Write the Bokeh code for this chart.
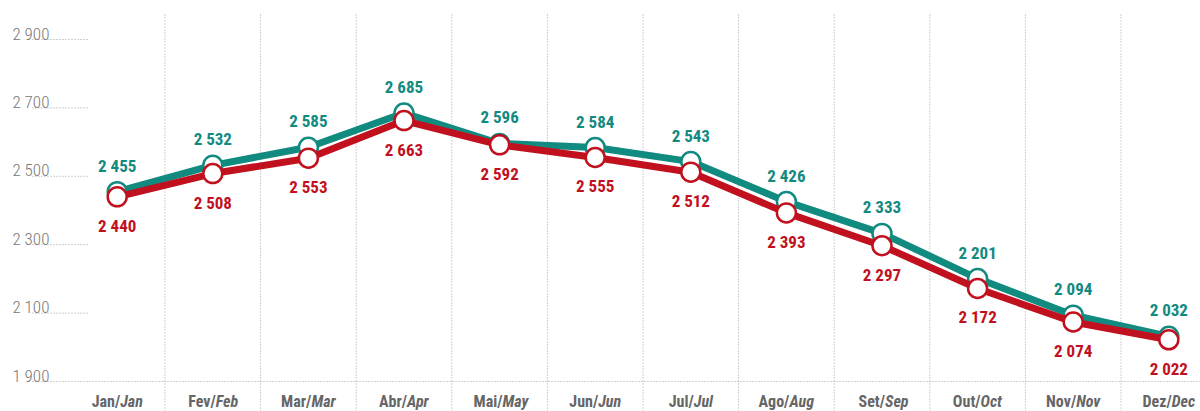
from bokeh.plotting import figure
from bokeh.models import Range1d
from bokeh.core.properties import value
from bokeh.embed import file_html
from bokeh.resources import INLINE

# ---- data ----
months_pt = ["Jan", "Fev", "Mar", "Abr", "Mai", "Jun", "Jul", "Ago", "Set", "Out", "Nov", "Dez"]
months_en = ["Jan", "Feb", "Mar", "Apr", "May", "Jun", "Jul", "Aug", "Sep", "Oct", "Nov", "Dec"]
teal_values = [2455, 2532, 2585, 2685, 2596, 2584, 2543, 2426, 2333, 2201, 2094, 2032]
red_values = [2440, 2508, 2553, 2663, 2592, 2555, 2512, 2393, 2297, 2172, 2074, 2022]
y_ticks = [1900, 2100, 2300, 2500, 2700, 2900]

TEAL = "#118a7f"
RED = "#c1111e"
GRAY_TXT = "#666666"
TICK_TXT = "#777777"
GRID = "#a0a0a0"
FONT_BOLD = "'Roboto Condensed', Roboto, sans-serif"
FONT_LIGHT = "'Roboto Condensed Light', 'Roboto Light', Roboto, sans-serif"

def fmt(v):
    return f"{v:,}".replace(",", " ")

# ---- layout (pixels) ----
W, H = 1200, 411
first_x_px = 116.7      # centre of first category
step_px = 95.6          # category spacing
base_px = 381.0         # pixel row of lowest tick
unit_px = 0.342         # pixels per data unit

x_start = -first_x_px / step_px
x_end = x_start + W / step_px
y_start = y_ticks[0] - (H - base_px) / unit_px
y_end = y_ticks[0] + base_px / unit_px

p = figure(width=W, height=H, output_backend="svg", toolbar_location=None,
           x_range=Range1d(x_start, x_end), y_range=Range1d(y_start, y_end),
           x_axis_type=None, y_axis_type=None, min_border=0, outline_line_color=None)
p.grid.visible = False
p.background_fill_color = "white"
p.border_fill_color = "white"

xs = list(range(len(months_pt)))

# vertical dotted separators
sep = [i + 0.5 for i in range(len(months_pt) - 1)]
v_top = y_end - 12 / unit_px
p.segment(x0=sep, x1=sep, y0=[y_start] * len(sep), y1=[v_top] * len(sep),
          line_color=GRID, line_width=1, line_dash="1 2")

# y tick dotted marks
lx0 = x_start + 32 / step_px
lx1 = x_start + 88 / step_px
p.segment(x0=[lx0] * (len(y_ticks) - 1), x1=[lx1] * (len(y_ticks) - 1),
          y0=y_ticks[1:], y1=y_ticks[1:], line_color=GRID, line_width=1, line_dash="1 2")
# baseline
p.segment(x0=[lx0], x1=[x_end], y0=[y_ticks[0]], y1=[y_ticks[0]],
          line_color=GRID, line_width=1, line_dash="1 2")

# tick labels
p.text(x=[x_start] * len(y_ticks), y=y_ticks, text=[fmt(t) for t in y_ticks],
       x_offset=12, y_offset=-6, text_align="left", text_baseline="alphabetic",
       text_font=value(FONT_LIGHT), text_font_size="17px", text_color=TICK_TXT)

# series
p.line(xs, teal_values, line_color=TEAL, line_width=7)
p.scatter(xs, teal_values, size=19, fill_color="white", line_color=TEAL, line_width=2.5)
p.line(xs, red_values, line_color=RED, line_width=7)
p.scatter(xs, red_values, size=19, fill_color="white", line_color=RED, line_width=2.5)

# data labels
p.text(x=xs, y=teal_values, text=[fmt(v) for v in teal_values], y_offset=-26,
       text_align="center", text_baseline="middle", text_font=value(FONT_BOLD),
       text_font_style="bold", text_font_size="17px", text_color=TEAL)
p.text(x=xs, y=red_values, text=[fmt(v) for v in red_values], y_offset=29,
       text_align="center", text_baseline="middle", text_font=value(FONT_BOLD),
       text_font_style="bold", text_font_size="17px", text_color=RED)

# category labels
p.text(x=xs, y=[y_ticks[0]] * len(xs), text=[m + "/" for m in months_pt],
       x_offset=3, y_offset=20, text_align="right", text_baseline="middle",
       text_font=value(FONT_BOLD), text_font_style="bold", text_font_size="16px",
       text_color=GRAY_TXT)
p.text(x=xs, y=[y_ticks[0]] * len(xs), text=months_en,
       x_offset=3, y_offset=20, text_align="left", text_baseline="middle",
       text_font=value(FONT_BOLD), text_font_style="bold italic", text_font_size="16px",
       text_color=GRAY_TXT)

open("out.html", "w").write(file_html(p, INLINE))
